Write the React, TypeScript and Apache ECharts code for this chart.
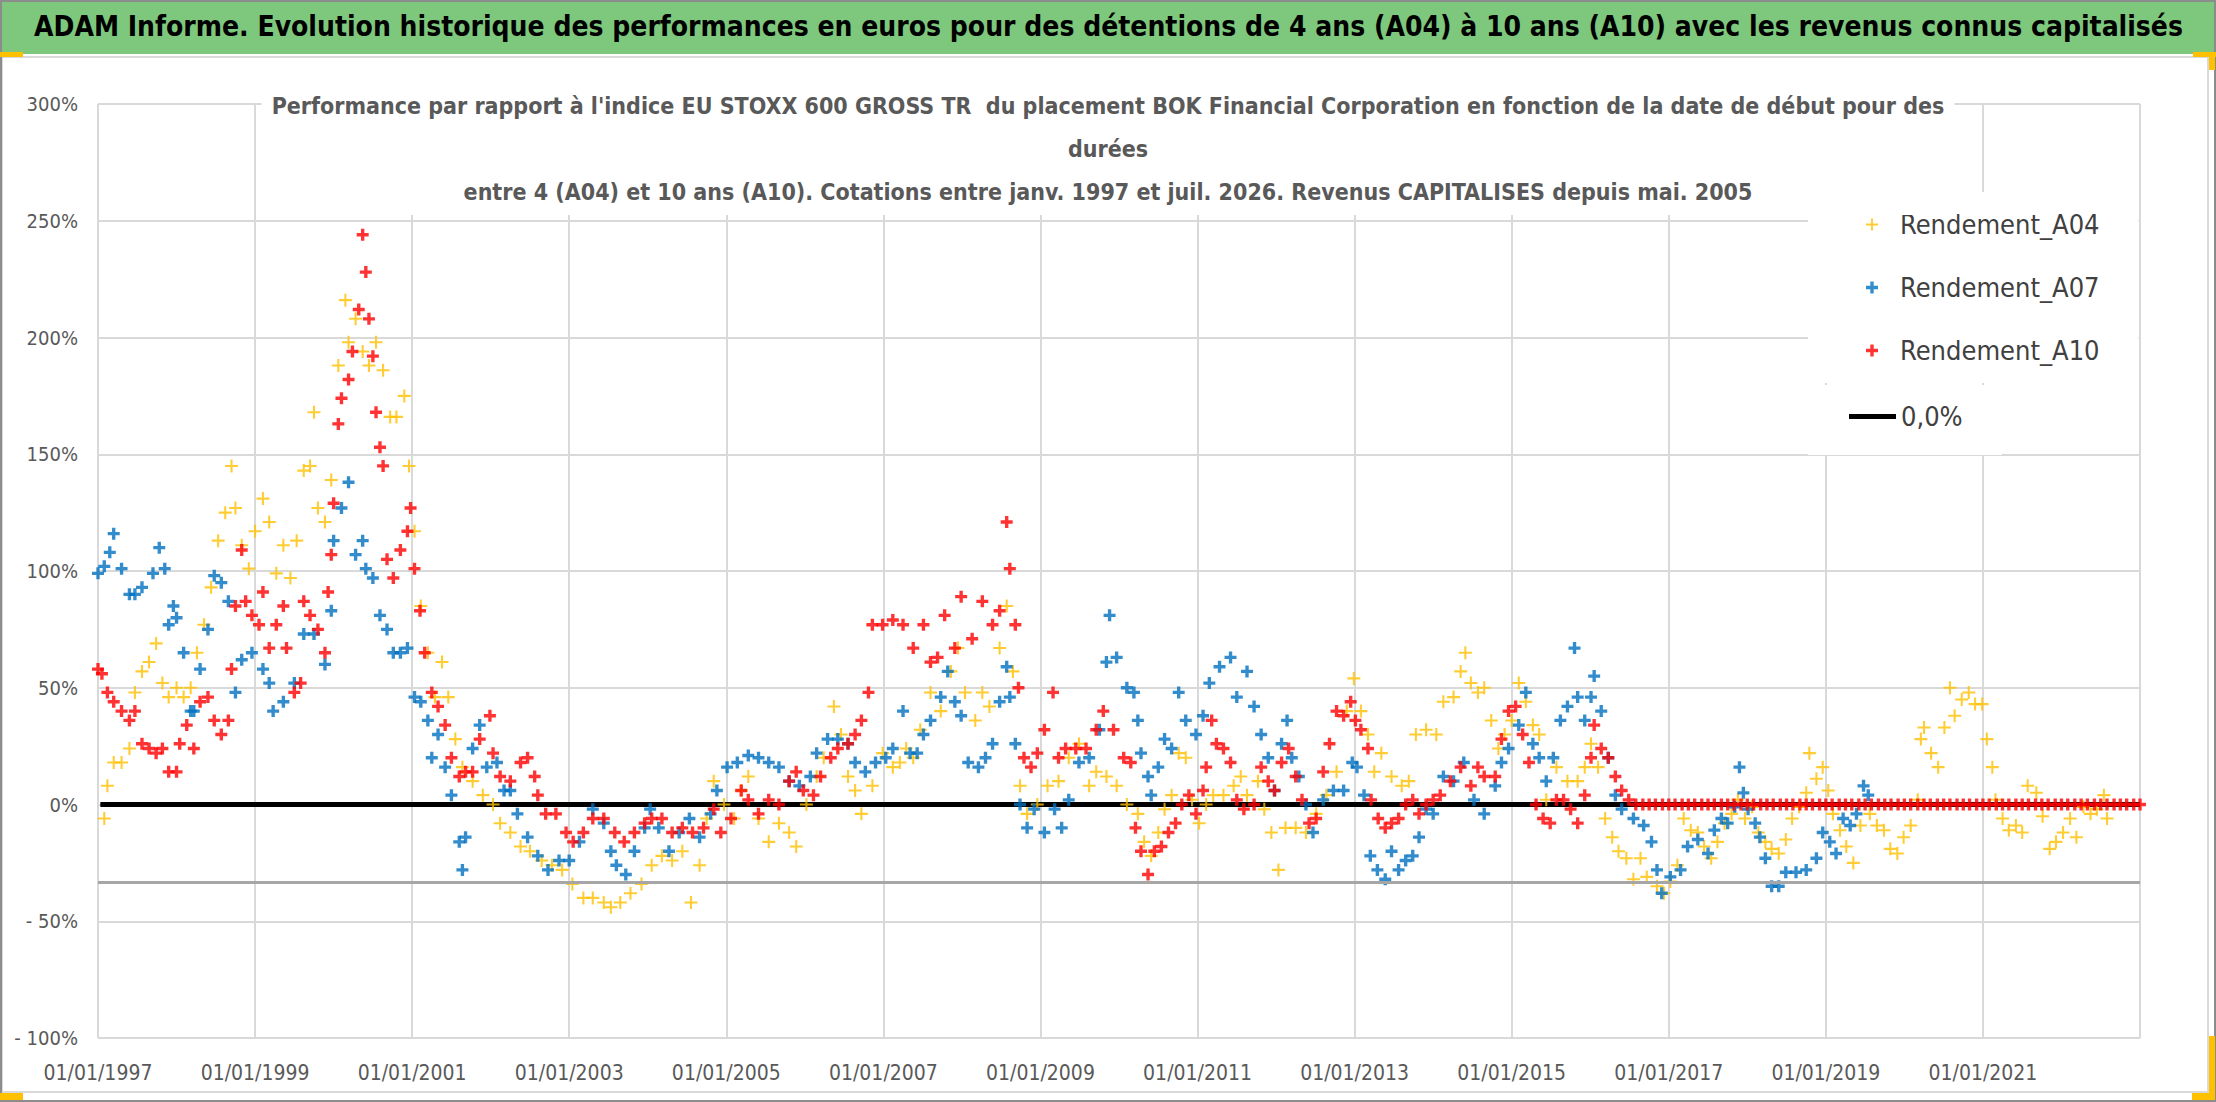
import { useEffect, useRef } from "react";
import * as echarts from "echarts";

// Start dates (decimal years) and relative performance (%).
const A04: [number, number][] = [
  [1997.08, -6], [1997.12, 8], [1997.2, 18], [1997.3, 18], [1997.4, 24], [1997.47, 48], [1997.56, 57], [1997.65, 61],
  [1997.74, 69], [1997.82, 52], [1997.9, 46], [1998.0, 50], [1998.09, 46], [1998.18, 50], [1998.26, 65], [1998.35, 77],
  [1998.44, 93], [1998.53, 113], [1998.62, 125], [1998.7, 145], [1998.75, 127], [1998.83, 111], [1998.92, 101], [1999.0, 117],
  [1999.1, 131], [1999.18, 121], [1999.27, 99], [1999.36, 111], [1999.45, 97], [1999.53, 113], [1999.62, 143], [1999.7, 145],
  [1999.75, 168], [1999.8, 127], [1999.89, 121], [1999.97, 139], [2000.06, 188], [2000.15, 216], [2000.19, 198], [2000.28, 208],
  [2000.37, 194], [2000.45, 188], [2000.54, 198], [2000.63, 186], [2000.72, 166], [2000.8, 166], [2000.9, 175], [2000.96, 145],
  [2001.03, 117], [2001.11, 85], [2001.2, 65], [2001.29, 46], [2001.38, 61], [2001.46, 46], [2001.55, 28], [2001.64, 16],
  [2001.77, 10], [2001.9, 4], [2002.03, 0], [2002.12, -8], [2002.25, -12], [2002.38, -18], [2002.5, -20], [2002.65, -24],
  [2002.78, -26], [2002.91, -28], [2003.04, -34], [2003.18, -40], [2003.3, -40], [2003.44, -42], [2003.53, -44], [2003.65, -42],
  [2003.78, -38], [2003.92, -34], [2004.05, -26], [2004.18, -22], [2004.31, -24], [2004.44, -20], [2004.55, -42], [2004.66, -26],
  [2004.75, -6], [2004.84, 10], [2004.97, 0], [2005.1, -6], [2005.19, 6], [2005.28, 12], [2005.41, -6], [2005.54, -16],
  [2005.67, -8], [2005.8, -12], [2005.89, -18], [2006.02, 0], [2006.15, 12], [2006.24, 20], [2006.37, 42], [2006.46, 30],
  [2006.55, 12], [2006.64, 6], [2006.72, -4], [2006.86, 8], [2006.99, 22], [2007.12, 16], [2007.21, 18], [2007.29, 24],
  [2007.38, 20], [2007.47, 32], [2007.6, 48], [2007.73, 40], [2007.86, 57], [2007.95, 67], [2008.04, 48], [2008.17, 36],
  [2008.26, 48], [2008.35, 42], [2008.48, 67], [2008.57, 85], [2008.65, 57], [2008.74, 8], [2008.83, -4], [2008.96, 0],
  [2009.09, 8], [2009.23, 10], [2009.36, 20], [2009.49, 26], [2009.62, 8], [2009.71, 14], [2009.84, 12], [2009.97, 8],
  [2010.1, 0], [2010.24, -4], [2010.32, -16], [2010.41, -22], [2010.5, -12], [2010.58, -2], [2010.67, 4], [2010.76, 22],
  [2010.85, 20], [2010.93, 2], [2011.02, -8], [2011.11, 0], [2011.2, 4], [2011.33, 4], [2011.46, 8], [2011.55, 12],
  [2011.63, 4], [2011.77, 10], [2011.85, -2], [2011.94, -12], [2012.03, -28], [2012.12, -10], [2012.25, -10], [2012.38, -12],
  [2012.51, -4], [2012.64, 4], [2012.77, 14], [2012.9, 40], [2012.99, 54], [2013.08, 40], [2013.17, 30], [2013.25, 14],
  [2013.34, 22], [2013.47, 12], [2013.6, 8], [2013.69, 10], [2013.78, 30], [2013.91, 32], [2014.04, 30], [2014.13, 44],
  [2014.26, 46], [2014.35, 57], [2014.41, 65], [2014.48, 52], [2014.57, 48], [2014.65, 50], [2014.74, 36], [2014.83, 24],
  [2014.91, 30], [2015.0, 36], [2015.09, 52], [2015.18, 44], [2015.27, 34], [2015.35, 30], [2015.44, 2], [2015.57, 16],
  [2015.71, 10], [2015.84, 10], [2015.93, 16], [2016.01, 26], [2016.1, 16], [2016.19, -6], [2016.28, -14], [2016.36, -20],
  [2016.46, -23], [2016.55, -32], [2016.64, -23], [2016.72, -31], [2016.85, -35], [2016.94, -38], [2017.02, -33], [2017.11, -26],
  [2017.19, -6], [2017.28, -11], [2017.37, -12], [2017.45, -18], [2017.54, -23], [2017.62, -16], [2017.71, -8], [2017.8, -4],
  [2017.88, 2], [2017.97, -6], [2018.06, -1], [2018.14, -12], [2018.23, -16], [2018.31, -19], [2018.4, -21], [2018.49, -15],
  [2018.57, -6], [2018.66, -1], [2018.75, 5], [2018.79, 22], [2018.88, 11], [2018.96, 16], [2019.03, 6], [2019.09, -4],
  [2019.18, -11], [2019.26, -18], [2019.35, -25], [2019.44, -9], [2019.56, -4], [2019.65, -9], [2019.74, -11], [2019.82, -19],
  [2019.91, -21], [2019.99, -14], [2020.08, -9], [2020.17, 2], [2020.21, 28], [2020.25, 33], [2020.34, 22], [2020.43, 16],
  [2020.51, 33], [2020.58, 50], [2020.64, 38], [2020.73, 45], [2020.82, 48], [2020.9, 43], [2020.99, 43], [2021.05, 28],
  [2021.12, 16], [2021.16, 2], [2021.25, -6], [2021.33, -11], [2021.42, -9], [2021.5, -12], [2021.57, 8], [2021.68, 5],
  [2021.76, -5], [2021.85, -19], [2021.93, -16], [2022.02, -12], [2022.11, -6], [2022.19, -14], [2022.28, -1], [2022.37, -4],
  [2022.45, -2], [2022.54, 4], [2022.58, -6],
];

const A07: [number, number][] = [
  [1997.0, 99], [1997.08, 102], [1997.15, 108], [1997.2, 116], [1997.3, 101], [1997.4, 90], [1997.47, 90], [1997.56, 93],
  [1997.7, 99], [1997.78, 110], [1997.85, 101], [1997.9, 77], [1997.96, 85], [1998.0, 80], [1998.09, 65], [1998.18, 40],
  [1998.22, 40], [1998.3, 58], [1998.4, 75], [1998.48, 98], [1998.57, 95], [1998.66, 87], [1998.75, 48], [1998.83, 62],
  [1998.96, 65], [1999.1, 58], [1999.18, 52], [1999.23, 40], [1999.36, 44], [1999.5, 52], [1999.62, 73], [1999.75, 73],
  [1999.89, 60], [1999.97, 83], [2000.0, 113], [2000.1, 127], [2000.19, 138], [2000.28, 107], [2000.37, 113], [2000.41, 101],
  [2000.5, 97], [2000.59, 81], [2000.68, 75], [2000.76, 65], [2000.85, 65], [2000.94, 67], [2001.03, 46], [2001.11, 44],
  [2001.2, 36], [2001.25, 20], [2001.33, 30], [2001.42, 16], [2001.5, 4], [2001.6, -16], [2001.64, -28], [2001.68, -14],
  [2001.77, 24], [2001.86, 34], [2001.95, 16], [2002.08, 18], [2002.17, 6], [2002.25, 6], [2002.34, -4], [2002.47, -14],
  [2002.6, -22], [2002.73, -28], [2002.87, -24], [2003.0, -24], [2003.13, -16], [2003.3, -2], [2003.44, -8], [2003.53, -20],
  [2003.6, -26], [2003.72, -30], [2003.83, -20], [2003.96, -10], [2004.03, -2], [2004.14, -10], [2004.27, -20], [2004.4, -12],
  [2004.53, -6], [2004.66, -14], [2004.8, -4], [2004.88, 6], [2005.01, 16], [2005.14, 18], [2005.28, 21], [2005.41, 20],
  [2005.54, 18], [2005.67, 16], [2005.8, 10], [2005.93, 8], [2006.07, 12], [2006.15, 22], [2006.29, 28], [2006.42, 28],
  [2006.55, 26], [2006.64, 18], [2006.77, 14], [2006.9, 18], [2007.03, 20], [2007.12, 24], [2007.25, 40], [2007.34, 22],
  [2007.43, 22], [2007.51, 30], [2007.6, 36], [2007.73, 46], [2007.82, 57], [2007.91, 44], [2007.99, 38], [2008.08, 18],
  [2008.21, 16], [2008.3, 20], [2008.39, 26], [2008.48, 44], [2008.57, 59], [2008.61, 46], [2008.68, 26], [2008.74, 0],
  [2008.83, -10], [2008.92, -2], [2009.05, -12], [2009.18, -2], [2009.27, -10], [2009.36, 2], [2009.49, 18], [2009.62, 20],
  [2009.75, 32], [2009.84, 61], [2009.88, 81], [2009.97, 63], [2010.1, 50], [2010.19, 48], [2010.24, 36], [2010.28, 22],
  [2010.37, 12], [2010.41, 4], [2010.5, 16], [2010.58, 28], [2010.67, 24], [2010.76, 48], [2010.85, 36], [2010.98, 30],
  [2011.07, 38], [2011.15, 52], [2011.28, 59], [2011.42, 63], [2011.5, 46], [2011.63, 57], [2011.72, 42], [2011.81, 30],
  [2011.9, 20], [2011.98, 6], [2012.07, 26], [2012.14, 36], [2012.2, 20], [2012.29, 12], [2012.38, 0], [2012.47, -12],
  [2012.6, 2], [2012.73, 6], [2012.86, 6], [2012.97, 18], [2013.03, 16], [2013.12, 4], [2013.2, -22], [2013.29, -28],
  [2013.39, -32], [2013.47, -20], [2013.56, -28], [2013.65, -24], [2013.74, -22], [2013.82, -14], [2013.91, -2], [2014.0, -4],
  [2014.13, 12], [2014.26, 10], [2014.39, 18], [2014.52, 2], [2014.65, -4], [2014.79, 8], [2014.87, 18], [2014.96, 24],
  [2015.09, 34], [2015.18, 48], [2015.27, 26], [2015.35, 20], [2015.44, 10], [2015.53, 20], [2015.62, 36], [2015.71, 42],
  [2015.8, 67], [2015.84, 46], [2015.93, 36], [2016.01, 46], [2016.05, 55], [2016.14, 40], [2016.23, 20], [2016.32, 4],
  [2016.4, -2], [2016.55, -6], [2016.68, -9], [2016.78, -16], [2016.85, -28], [2016.91, -38], [2017.02, -31], [2017.15, -28],
  [2017.24, -18], [2017.37, -15], [2017.5, -21], [2017.58, -11], [2017.67, -6], [2017.75, -8], [2017.84, -1], [2017.9, 16],
  [2017.95, 5], [2018.01, -2], [2018.1, -8], [2018.16, -14], [2018.23, -23], [2018.31, -35], [2018.4, -35], [2018.49, -29],
  [2018.62, -29], [2018.75, -28], [2018.88, -23], [2018.96, -12], [2019.05, -16], [2019.13, -21], [2019.22, -6], [2019.31, -9],
  [2019.39, -4], [2019.48, 8], [2019.54, 4],
];

const A10: [number, number][] = [
  [1997.0, 58], [1997.05, 56], [1997.12, 48], [1997.2, 44], [1997.3, 40], [1997.4, 36], [1997.47, 40], [1997.56, 26],
  [1997.65, 24], [1997.74, 22], [1997.82, 24], [1997.9, 14], [1998.0, 14], [1998.04, 26], [1998.13, 34], [1998.22, 24],
  [1998.3, 44], [1998.4, 46], [1998.48, 36], [1998.57, 30], [1998.66, 36], [1998.7, 58], [1998.75, 85], [1998.83, 109],
  [1998.88, 87], [1998.96, 81], [1999.05, 77], [1999.1, 91], [1999.18, 67], [1999.27, 77], [1999.36, 85], [1999.4, 67],
  [1999.5, 48], [1999.58, 52], [1999.62, 87], [1999.7, 81], [1999.8, 75], [1999.89, 65], [1999.93, 91], [1999.97, 107],
  [2000.0, 129], [2000.06, 163], [2000.1, 174], [2000.19, 182], [2000.24, 194], [2000.32, 212], [2000.37, 244], [2000.41, 228],
  [2000.45, 208], [2000.5, 192], [2000.54, 168], [2000.59, 153], [2000.63, 145], [2000.68, 105], [2000.76, 97], [2000.85, 109],
  [2000.94, 117], [2000.98, 127], [2001.03, 101], [2001.1, 83], [2001.16, 65], [2001.25, 48], [2001.33, 42], [2001.42, 34],
  [2001.5, 20], [2001.6, 12], [2001.68, 14], [2001.77, 14], [2001.86, 28], [2001.99, 38], [2002.03, 22], [2002.12, 12],
  [2002.25, 10], [2002.38, 18], [2002.47, 20], [2002.56, 12], [2002.6, 4], [2002.7, -4], [2002.83, -4], [2002.96, -12],
  [2003.05, -16], [2003.18, -12], [2003.3, -6], [2003.44, -6], [2003.58, -12], [2003.7, -16], [2003.83, -12], [2003.96, -8],
  [2004.05, -6], [2004.18, -6], [2004.31, -12], [2004.44, -10], [2004.57, -12], [2004.71, -10], [2004.84, -2], [2004.93, -12],
  [2005.06, -6], [2005.19, 6], [2005.28, 2], [2005.41, -4], [2005.54, 2], [2005.67, 0], [2005.8, 10], [2005.89, 14],
  [2005.98, 6], [2006.11, 4], [2006.2, 12], [2006.33, 20], [2006.42, 24], [2006.55, 26], [2006.64, 30], [2006.72, 36],
  [2006.81, 48], [2006.86, 77], [2006.99, 77], [2007.12, 79], [2007.25, 77], [2007.38, 67], [2007.51, 77], [2007.6, 61],
  [2007.69, 63], [2007.78, 81], [2007.91, 67], [2007.99, 89], [2008.13, 71], [2008.26, 87], [2008.39, 77], [2008.48, 83],
  [2008.57, 121], [2008.61, 101], [2008.68, 77], [2008.72, 50], [2008.79, 20], [2008.88, 16], [2008.96, 22], [2009.05, 32],
  [2009.16, 48], [2009.23, 20], [2009.32, 24], [2009.45, 24], [2009.58, 24], [2009.71, 32], [2009.8, 40], [2009.93, 32],
  [2010.06, 20], [2010.15, 18], [2010.21, -10], [2010.28, -20], [2010.37, -30], [2010.45, -20], [2010.54, -18], [2010.63, -12],
  [2010.72, -8], [2010.8, 0], [2010.89, 4], [2010.98, -4], [2011.07, 6], [2011.11, 16], [2011.18, 36], [2011.24, 26],
  [2011.33, 24], [2011.42, 18], [2011.5, 2], [2011.59, -2], [2011.72, 0], [2011.81, 16], [2011.9, 10], [2011.98, 6],
  [2012.07, 18], [2012.16, 24], [2012.25, 12], [2012.33, 2], [2012.42, -8], [2012.51, -6], [2012.6, 14], [2012.68, 26],
  [2012.77, 40], [2012.86, 38], [2012.95, 44], [2013.01, 36], [2013.08, 32], [2013.17, 24], [2013.21, 2], [2013.3, -6],
  [2013.39, -10], [2013.47, -8], [2013.56, -6], [2013.65, 0], [2013.74, 2], [2013.82, -4], [2013.91, 0], [2014.0, 2],
  [2014.09, 4], [2014.22, 10], [2014.35, 16], [2014.48, 8], [2014.57, 16], [2014.65, 12], [2014.79, 12], [2014.87, 28],
  [2014.96, 40], [2015.05, 42], [2015.14, 30], [2015.22, 18], [2015.31, 0], [2015.4, -6], [2015.49, -8], [2015.57, 2],
  [2015.66, 2], [2015.75, -2], [2015.84, -8], [2015.93, 4], [2016.01, 20], [2016.05, 34], [2016.14, 24], [2016.23, 20],
  [2016.32, 12], [2016.4, 6], [2016.49, 2], [2016.58, 0],
];

// A10 has no history yet after mid-2016: plotted flat at 0 up to the end of the axis.
const A10_FLAT_DATES = [
  2016.67, 2016.75, 2016.83, 2016.92,
  2017.0, 2017.08, 2017.17, 2017.25, 2017.33, 2017.42, 2017.5, 2017.58, 2017.67, 2017.75, 2017.83, 2017.92,
  2018.0, 2018.08, 2018.17, 2018.25, 2018.33, 2018.42, 2018.5, 2018.58, 2018.67, 2018.75, 2018.83, 2018.92,
  2019.0, 2019.08, 2019.17, 2019.25, 2019.33, 2019.42, 2019.5, 2019.58, 2019.67, 2019.75, 2019.83, 2019.92,
  2020.0, 2020.08, 2020.17, 2020.25, 2020.33, 2020.42, 2020.5, 2020.58, 2020.67, 2020.75, 2020.83, 2020.92,
  2021.0, 2021.08, 2021.17, 2021.25, 2021.33, 2021.42, 2021.5, 2021.58, 2021.67, 2021.75, 2021.83, 2021.92,
  2022.0, 2022.08, 2022.17, 2022.25, 2022.33, 2022.42, 2022.5, 2022.58, 2022.67, 2022.75, 2022.83, 2022.92,
  2023.0,
];

const ZERO_LINE: [number, number][] = [[1997.03, 0], [2023.0, 0]];
const AXIS_CROSS = -33.3;

const FIRST_YEAR = 1997;
const X_TICK_LABELS = [
  "01/01/1997", "01/01/1999", "01/01/2001", "01/01/2003", "01/01/2005", "01/01/2007", "01/01/2009",
  "01/01/2011", "01/01/2013", "01/01/2015", "01/01/2017", "01/01/2019", "01/01/2021",
];
const Y_TICKS = [-100, -50, 0, 50, 100, 150, 200, 250, 300];
const Y_TICK_LABELS = ["- 100%", "- 50%", "0%", "50%", "100%", "150%", "200%", "250%", "300%"];

const SERIES_NAMES = ["Rendement_A04", "Rendement_A07", "Rendement_A10"];
const ZERO_NAME = "0,0%";

const MAIN_TITLE =
  "ADAM Informe. Evolution historique des performances en euros pour des détentions de 4 ans (A04) à 10 ans (A10) avec les revenus connus capitalisés";
const CHART_TITLE = [
  "Performance par rapport à l'indice EU STOXX 600 GROSS TR  du placement BOK Financial Corporation en fonction de la date de début pour des",
  "durées",
  "entre 4 (A04) et 10 ans (A10). Cotations entre janv. 1997 et juil. 2026. Revenus CAPITALISES depuis mai. 2005",
];

const FONT = "'DejaVu Sans Condensed', 'DejaVu Sans', sans-serif";
const PLUS_THIN = "path://M4.2,0H5.8V4.2H10V5.8H5.8V10H4.2V5.8H0V4.2H4.2Z";
const PLUS_BOLD = "path://M3.6,0H6.4V3.6H10V6.4H6.4V10H3.6V6.4H0V3.6H3.6Z";
const GOLD = "#ffc000";

const toX = (pts: [number, number][]) => pts.map(([d, v]) => [d - FIRST_YEAR, v]);

export default function App() {
  const ref = useRef<HTMLDivElement | null>(null);

  useEffect(() => {
    document.body.style.margin = "0";
    if (!ref.current) return;
    const chart = echarts.init(ref.current, undefined, { renderer: "svg" });

    const handle = (x: number, y: number, width: number, height: number) => ({
      type: "rect",
      shape: { x, y, width, height },
      style: { fill: GOLD },
      z: 10,
    });

    chart.setOption({
      animation: false,
      backgroundColor: "#fff",
      textStyle: { fontFamily: FONT },
      graphic: {
        elements: [
          { type: "rect", shape: { x: 0, y: 0, width: 2216, height: 54 }, style: { fill: "#7dc87d" }, z: 0 },
          {
            type: "rect",
            shape: { x: 2, y: 57, width: 2206, height: 1035 },
            style: { fill: "none", stroke: "#d9d9d9", lineWidth: 2 },
            z: 0,
          },
          {
            type: "rect",
            shape: { x: 1, y: 1, width: 2214, height: 1100 },
            style: { fill: "none", stroke: "#8c8c8c", lineWidth: 2 },
            z: 10,
          },
          handle(0, 52, 23, 5),
          handle(2193, 52, 23, 5),
          handle(2209, 52, 6, 18),
          handle(0, 1093, 23, 7),
          handle(2192, 1093, 23, 7),
          handle(2209, 1036, 6, 64),
        ],
      },
      title: [
        {
          text: MAIN_TITLE,
          left: 34,
          top: 12,
          padding: 0,
          textStyle: { fontFamily: FONT, fontSize: 28, fontWeight: "bold", color: "#000" },
        },
        {
          text: CHART_TITLE.join("\n"),
          left: "center",
          top: 80,
          padding: [4, 10, 2, 10],
          backgroundColor: "#fff",
          textStyle: {
            fontFamily: FONT,
            fontSize: 23,
            lineHeight: 43,
            fontWeight: "bold",
            color: "#595959",
          },
        },
      ],
      legend: [
        {
          data: SERIES_NAMES,
          orient: "vertical",
          left: 1808,
          top: 192,
          padding: [19, 39, 19, 58],
          itemWidth: 12,
          itemHeight: 12,
          itemGap: 36,
          backgroundColor: "#fff",
          textStyle: { fontFamily: FONT, fontSize: 27, color: "#404040", padding: [0, 0, 0, 17] },
        },
        {
          data: [{ name: ZERO_NAME, icon: "rect" }],
          orient: "vertical",
          left: 1808,
          top: 385,
          padding: [18, 39, 25, 41],
          itemWidth: 47,
          itemHeight: 5,
          backgroundColor: "#fff",
          textStyle: { fontFamily: FONT, fontSize: 27, color: "#404040" },
        },
      ],
      grid: { left: 98, right: 76, top: 104, bottom: 64 },
      xAxis: {
        type: "value",
        min: 0,
        max: 26,
        interval: 2,
        axisLine: { show: false },
        axisTick: { show: false },
        splitLine: { show: true, lineStyle: { color: "#d9d9d9", width: 2 } },
        axisLabel: {
          margin: 24,
          fontSize: 21,
          color: "#595959",
          fontFamily: FONT,
          showMaxLabel: false,
          formatter: (v: number) => X_TICK_LABELS[Math.round(v / 2)] ?? "",
        },
      },
      yAxis: {
        type: "value",
        min: Y_TICKS[0],
        max: Y_TICKS[Y_TICKS.length - 1],
        interval: 50,
        axisLine: { show: false },
        axisTick: { show: false },
        splitLine: { show: true, lineStyle: { color: "#d9d9d9", width: 2 } },
        axisLabel: {
          margin: 20,
          fontSize: 20,
          color: "#595959",
          fontFamily: FONT,
          formatter: (v: number) => Y_TICK_LABELS[Y_TICKS.indexOf(v)] ?? "",
        },
      },
      series: [
        {
          name: ZERO_NAME,
          type: "line",
          data: toX(ZERO_LINE),
          symbol: "none",
          color: "#000",
          lineStyle: { color: "#000", width: 5 },
          z: 1,
          silent: true,
          markLine: {
            silent: true,
            symbol: "none",
            label: { show: false },
            lineStyle: { color: "#a6a6a6", width: 3, type: "solid" },
            data: [{ yAxis: AXIS_CROSS }],
          },
        },
        {
          name: SERIES_NAMES[0],
          type: "scatter",
          data: toX(A04),
          symbol: PLUS_THIN,
          symbolSize: 13,
          itemStyle: { color: GOLD },
          z: 2,
        },
        {
          name: SERIES_NAMES[1],
          type: "scatter",
          data: toX(A07),
          symbol: PLUS_BOLD,
          symbolSize: 12,
          itemStyle: { color: "#0070c0" },
          z: 3,
        },
        {
          name: SERIES_NAMES[2],
          type: "scatter",
          data: toX([...A10, ...A10_FLAT_DATES.map((d) => [d, 0] as [number, number])]),
          symbol: PLUS_BOLD,
          symbolSize: 12,
          itemStyle: { color: "#ff0000" },
          z: 4,
        },
      ],
    });

    return () => chart.dispose();
  }, []);

  return <div ref={ref} style={{ width: 2216, height: 1102 }} />;
}
